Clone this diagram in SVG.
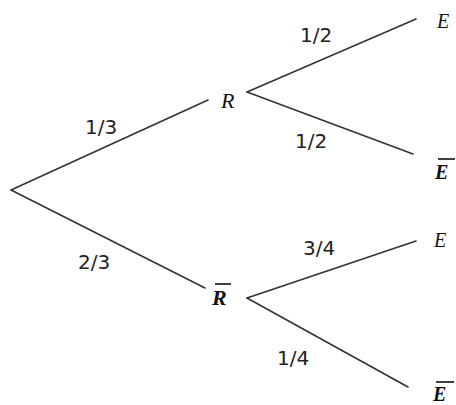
<svg xmlns="http://www.w3.org/2000/svg" width="456" height="405" viewBox="0 0 456 405">
<style>
.edge{stroke:#333;stroke-width:1.6;fill:none;stroke-linecap:round}
.lbl{font-family:"DejaVu Sans",sans-serif;font-size:20px;fill:#222}
.var{font-family:"Liberation Serif",serif;font-style:italic;fill:#111}
.bar{font-weight:bold}
.ol{stroke:#111;stroke-width:1.6}
</style>
<rect width="456" height="405" fill="#fff"/>
<g id="connectors">
<line class="edge" x1="11" y1="190" x2="208" y2="100"/>
<line class="edge" x1="11" y1="190" x2="205" y2="288"/>
<line class="edge" x1="247" y1="92" x2="416" y2="19"/>
<line class="edge" x1="247" y1="92" x2="413" y2="154"/>
<line class="edge" x1="247" y1="298" x2="416" y2="241"/>
<line class="edge" x1="247" y1="298" x2="408" y2="387"/>
</g>
<g id="edge-labels">
<text class="lbl" x="300" y="42">1/2</text>
<text class="lbl" x="295" y="148">1/2</text>
<text class="lbl" x="85" y="134">1/3</text>
<text class="lbl" x="78" y="269">2/3</text>
<text class="lbl" x="303" y="255">3/4</text>
<text class="lbl" x="277" y="365">1/4</text>
</g>
<g id="node-R"><text class="var" x="221" y="108" font-size="22">R</text></g>
<g id="node-Rbar"><text class="var bar" x="212" y="305" font-size="22">R</text><line class="ol" x1="215" y1="284" x2="231" y2="284"/></g>
<g id="node-E1"><text class="var" x="437" y="28" font-size="20">E</text></g>
<g id="node-Ebar1"><text class="var bar" x="435" y="179" font-size="20">E</text><line class="ol" x1="438" y1="159" x2="455" y2="159"/></g>
<g id="node-E2"><text class="var" x="434" y="247" font-size="20">E</text></g>
<g id="node-Ebar2"><text class="var bar" x="433" y="401" font-size="20">E</text><line class="ol" x1="436" y1="382" x2="454" y2="382"/></g>
</svg>
